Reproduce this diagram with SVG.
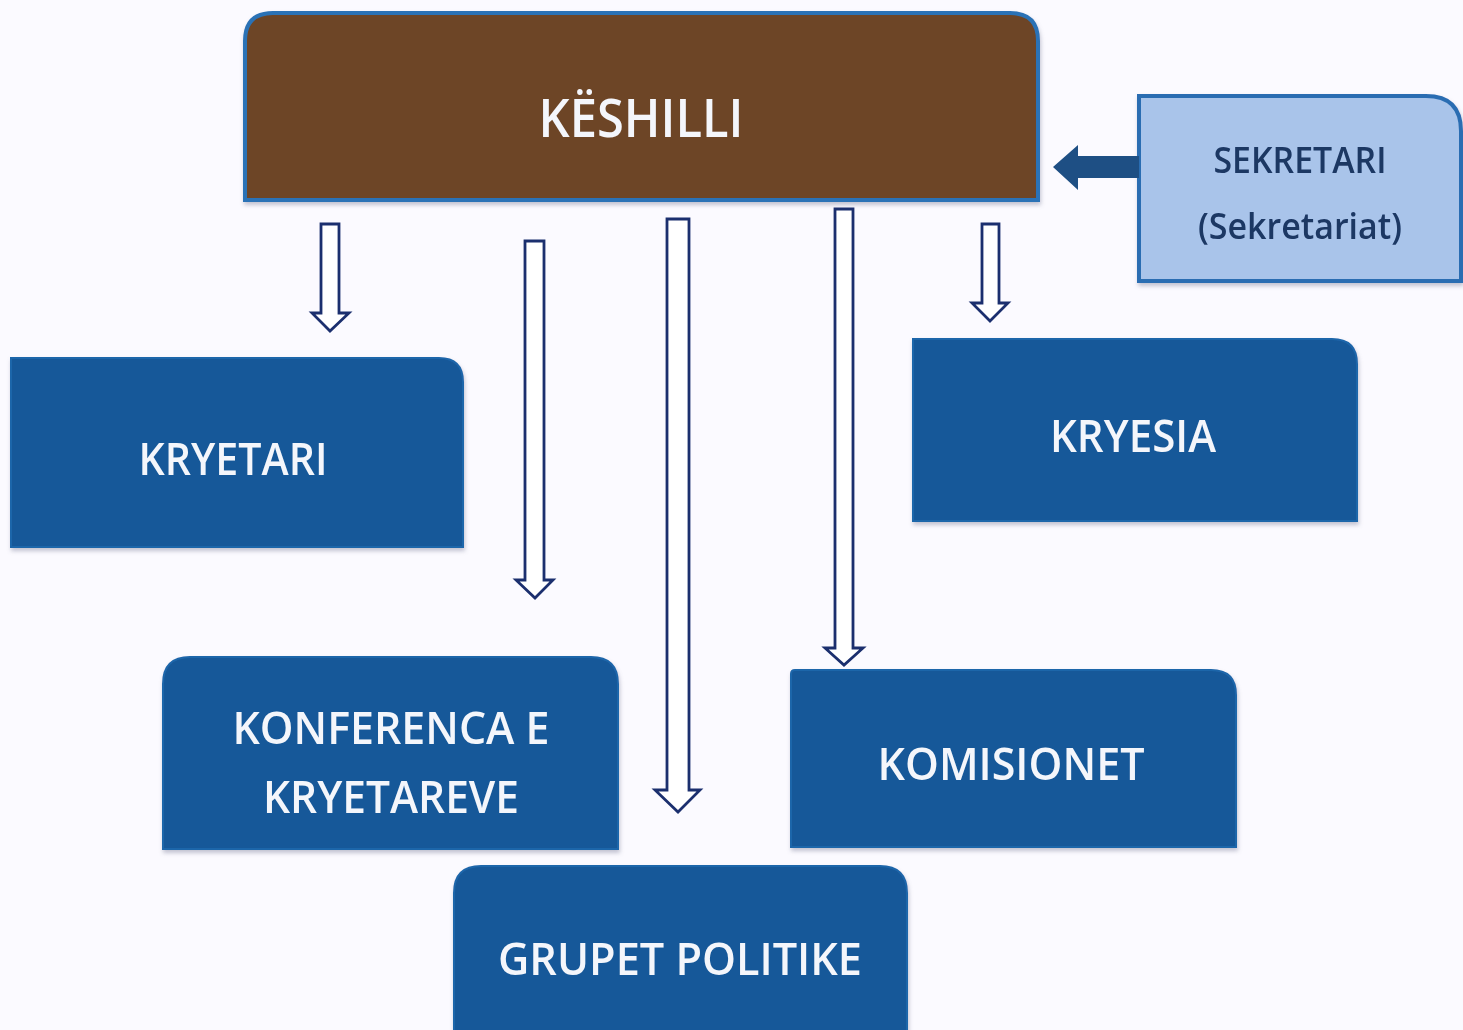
<svg xmlns="http://www.w3.org/2000/svg" width="1463" height="1030" viewBox="0 0 1463 1030">
<style>
.lbl{font-family:"Open Sans","Liberation Sans",sans-serif;font-weight:600;fill:#f4f6fb;text-anchor:middle}
.dark{fill:#1c3764}
.box{fill:#165899;stroke:#1e66aa;stroke-width:2}
.hollow{fill:#ffffff;stroke:#1b2f6e;stroke-width:2.8;stroke-linejoin:miter}
</style>
<defs>
<filter id="sh" x="-5%" y="-5%" width="110%" height="115%">
<feDropShadow dx="1" dy="3" stdDeviation="2" flood-color="#7a7f99" flood-opacity="0.45"/>
</filter>
</defs>
<rect width="1463" height="1030" fill="#fbfaff"/>
<g id="keshilli" filter="url(#sh)">
<path d="M245,200 V41 Q245,13 273,13 H1010 Q1038,13 1038,41 V200 Z" fill="#6d4425" stroke="#2b72b6" stroke-width="4"/>
<text class="lbl" x="641" y="137" font-size="52" textLength="205" lengthAdjust="spacingAndGlyphs">KËSHILLI</text>
</g>
<g id="sekretari" filter="url(#sh)">
<path d="M1139,96 H1426 Q1461,96 1461,131 V281 H1139 Z" fill="#a9c4ea" stroke="#2b6db2" stroke-width="4"/>
<text class="lbl dark" x="1300" y="173" font-size="36" textLength="173" lengthAdjust="spacingAndGlyphs">SEKRETARI</text>
<text class="lbl dark" x="1300" y="239" font-size="36" textLength="204" lengthAdjust="spacingAndGlyphs">(Sekretariat)</text>
</g>
<g id="kryetari" filter="url(#sh)">
<path class="box" d="M11,358 H439 Q463,358 463,382 V547 H11 Z"/>
<text class="lbl" x="233" y="475" font-size="46" textLength="189" lengthAdjust="spacingAndGlyphs">KRYETARI</text>
</g>
<g id="kryesia" filter="url(#sh)">
<path class="box" d="M913,339 H1332 Q1357,339 1357,364 V521 H913 Z"/>
<text class="lbl" x="1133" y="452" font-size="46" textLength="166" lengthAdjust="spacingAndGlyphs">KRYESIA</text>
</g>
<g id="konferenca" filter="url(#sh)">
<path class="box" d="M163,849 V684 Q163,657 190,657 H591 Q618,657 618,684 V849 Z"/>
<text class="lbl" x="391" y="744" font-size="46" textLength="317" lengthAdjust="spacingAndGlyphs">KONFERENCA E</text>
<text class="lbl" x="391" y="813" font-size="46" textLength="256" lengthAdjust="spacingAndGlyphs">KRYETAREVE</text>
</g>
<g id="komisionet" filter="url(#sh)">
<path class="box" d="M791,847 V674 Q791,670 795,670 H1211 Q1236,670 1236,695 V847 Z"/>
<text class="lbl" x="1011" y="780" font-size="46" textLength="267" lengthAdjust="spacingAndGlyphs">KOMISIONET</text>
</g>
<g id="grupet" filter="url(#sh)">
<path class="box" d="M454,1035 V893 Q454,866 481,866 H880 Q907,866 907,893 V1035 Z"/>
<text class="lbl" x="680" y="975" font-size="46" textLength="364" lengthAdjust="spacingAndGlyphs">GRUPET POLITIKE</text>
</g>
<g id="connectors">
<path d="M1139,156 H1078 V145 L1053,167 L1078,190 V178 H1139 Z" fill="#1e4f84"/>
<path class="hollow" d="M321,224 H339 V313 H349 L330,331 L312,313 H321 Z"/>
<path class="hollow" d="M525,241 H544 V580 H553 L535,598 L516,580 H525 Z"/>
<path class="hollow" d="M667,219 H689 V790 H700 L678,812 L655,790 H667 Z"/>
<path class="hollow" d="M835,209 H853 V648 H863 L844,665 L825,648 H835 Z"/>
<path class="hollow" d="M982,224 H999 V303 H1008 L990,321 L972,303 H982 Z"/>
</g>
</svg>
